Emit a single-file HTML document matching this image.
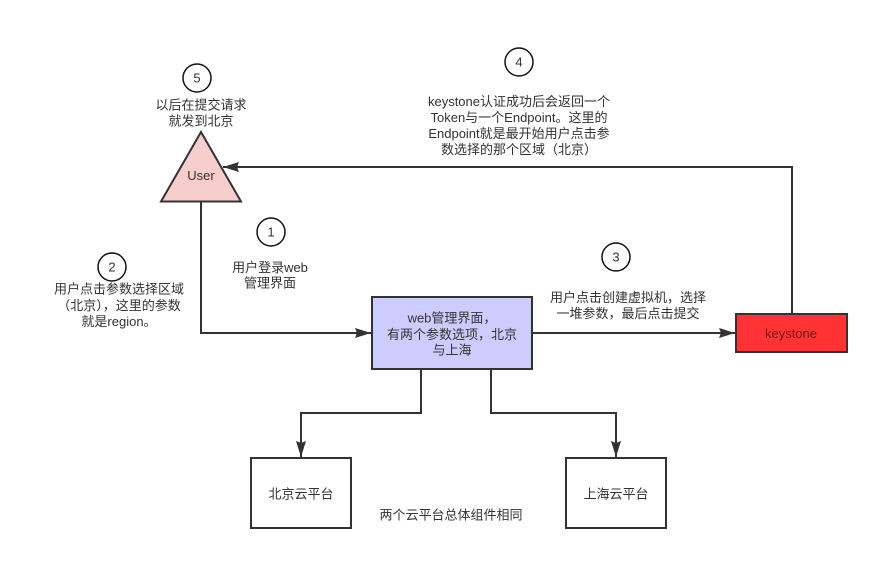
<!DOCTYPE html>
<html><head><meta charset="utf-8"><style>
html,body{margin:0;padding:0;background:#fff;width:879px;height:566px;overflow:hidden}
svg{display:block}
text{font-family:"Liberation Sans","Noto Sans CJK SC",sans-serif;font-size:13px;fill:#333;text-anchor:middle}
</style></head><body>
<svg width="879" height="566" viewBox="0 0 879 566" xmlns="http://www.w3.org/2000/svg">
<rect width="879" height="566" fill="#fff"/>
<defs>
<marker id="a" viewBox="0 0 16 12" refX="16" refY="6" markerWidth="16" markerHeight="12" markerUnits="userSpaceOnUse" orient="auto">
<path d="M0,1 L16,6 L0,11 L2,6 Z" fill="#333"/>
</marker>
</defs>
<g fill="none" stroke="#333" stroke-width="2">
<polyline points="201,202 201,333 371,333" marker-end="url(#a)"/>
<polyline points="532,333 735,333" marker-end="url(#a)"/>
<polyline points="792,314 792,167 223,167" marker-end="url(#a)"/>
<polyline points="421,369 421,413 301,413 301,457" marker-end="url(#a)"/>
<polyline points="491,369 491,413 616,413 616,457" marker-end="url(#a)"/>
</g>
<polygon points="201,132 161,201.5 241,201.5" fill="#f8cecc" stroke="#333" stroke-width="2"/>
<text x="201" y="180">User</text>
<rect x="372" y="297" width="160" height="72" fill="#ccccff" stroke="#333" stroke-width="2"/>
<text x="452" y="322.5">web管理界面，</text>
<text x="452" y="339">有两个参数选项，北京</text>
<text x="452" y="354.5">与上海</text>
<rect x="736" y="314" width="111" height="38" fill="#ff3333" stroke="#333" stroke-width="2"/>
<text x="791" y="338" style="fill:#6e1414">keystone</text>
<rect x="251" y="458" width="100" height="70" fill="#fff" stroke="#333" stroke-width="2"/>
<text x="301" y="498.5">北京云平台</text>
<rect x="566" y="458" width="100" height="70" fill="#fff" stroke="#333" stroke-width="2"/>
<text x="616" y="498.5">上海云平台</text>
<text x="451" y="519.5">两个云平台总体组件相同</text>
<g fill="#fff" stroke="#111" stroke-width="1.5">
<circle cx="197" cy="78" r="14"/>
<circle cx="271" cy="232" r="14"/>
<circle cx="112" cy="267" r="14"/>
<circle cx="519" cy="62" r="14"/>
<circle cx="616" cy="257" r="14"/>
</g>
<text x="197" y="82.5">5</text>
<text x="271" y="236.5">1</text>
<text x="112" y="271.5">2</text>
<text x="519" y="66.5">4</text>
<text x="616" y="261.5">3</text>
<text x="201" y="109.5">以后在提交请求</text>
<text x="201" y="125.5">就发到北京</text>
<text x="270" y="272">用户登录web</text>
<text x="270" y="287.5">管理界面</text>
<text x="119" y="293.5">用户点击参数选择区域</text>
<text x="119" y="310">（北京），这里的参数</text>
<text x="119" y="326">就是region。</text>
<text x="519" y="106">keystone认证成功后会返回一个</text>
<text x="519" y="122">Token与一个Endpoint。这里的</text>
<text x="519" y="138">Endpoint就是最开始用户点击参</text>
<text x="519" y="154">数选择的那个区域（北京）</text>
<text x="628" y="302">用户点击创建虚拟机，选择</text>
<text x="628" y="318">一堆参数，最后点击提交</text>
</svg>
</body></html>
